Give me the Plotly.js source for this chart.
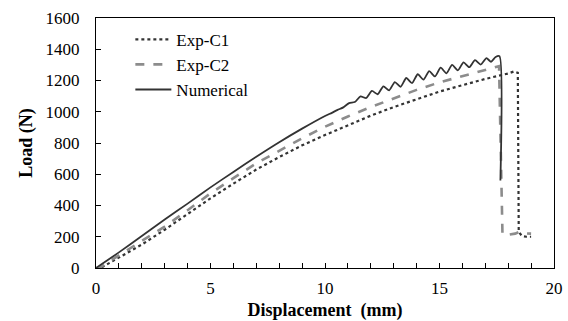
<!DOCTYPE html>
<html>
<head>
<meta charset="utf-8">
<script src="https://cdn.plot.ly/plotly-3.0.1.min.js"></script>
<style>html,body{margin:0;padding:0;background:#fff;}#chart{width:568px;height:321px;}</style>
</head>
<body>
<div id="chart"></div>
<script>
// Exp-C1 (dotted)
const c1X = [0, 0.2, 0.5, 1, 2, 3, 4, 5, 6, 7, 8, 9, 10, 11, 12, 13, 14, 15, 16, 17, 18, 18.25, 18.42, 18.46, 18.6, 18.8, 19];
const c1Y = [0, 0, 25, 65, 150, 245, 345, 446, 540, 630, 710, 785, 851, 915, 975, 1030, 1080, 1129, 1170, 1210, 1245, 1258, 1250, 232, 205, 200, 200];

// Exp-C2 (dashed)
const c2X = [0, 0.2, 0.5, 1, 2, 3, 4, 5, 6, 7, 8, 9, 10, 11, 12, 13, 14, 15, 16, 17, 17.6, 17.75, 18, 18.3, 18.5, 18.7, 19];
const c2Y = [0, 5, 35, 80, 170, 265, 370, 478, 575, 670, 750, 830, 904, 970, 1030, 1085, 1140, 1188, 1230, 1268, 1292, 215, 212, 220, 232, 222, 220];

// Numerical (solid)
const numX = [0, 1, 2, 3, 4, 5, 6, 7, 8, 9, 10, 10.3, 10.55, 10.8, 11.05, 11.3, 11.55, 11.8, 12.05, 12.3, 12.55, 12.8, 13.05, 13.3, 13.55, 13.8, 14.05, 14.3, 14.55, 14.8, 15.05, 15.3, 15.55, 15.8, 16.05, 16.3, 16.55, 16.8, 17.05, 17.25, 17.45, 17.62, 17.66];
const numY = [0, 100, 205, 310, 412, 516, 615, 712, 805, 892, 973, 993, 1012, 1028, 1055, 1062, 1098, 1088, 1133, 1112, 1163, 1137, 1190, 1160, 1216, 1183, 1240, 1205, 1260, 1226, 1282, 1246, 1300, 1265, 1316, 1285, 1330, 1302, 1343, 1320, 1350, 1355, 560];

const xTicks = [0, 5, 10, 15, 20];
const yTicks = [0, 200, 400, 600, 800, 1000, 1200, 1400, 1600];

const font = {family: '"Liberation Serif", "Times New Roman", serif', color: '#000'};
const f = s => Object.assign({size: s}, font);

const traces = [
  {x: c1X, y: c1Y, name: 'Exp-C1', mode: 'lines', line: {color: '#333333', width: 2.2, dash: 'dot'}},
  {x: c2X, y: c2Y, name: 'Exp-C2', mode: 'lines', line: {color: '#8c8c8c', width: 2.6, dash: 'dash'}},
  {x: numX, y: numY, name: 'Numerical', mode: 'lines', line: {color: '#333333', width: 1.8, shape: 'spline', smoothing: 0.6}}
];

const layout = {
  width: 568, height: 321,
  margin: {l: 96, r: 14, t: 18, b: 53},
  paper_bgcolor: '#fff', plot_bgcolor: '#fff',
  font: f(17),
  showlegend: true,
  legend: {x: 0.075, y: 0.985, xanchor: 'left', yanchor: 'top', bgcolor: 'rgba(0,0,0,0)', font: f(17), tracegroupgap: 0, itemwidth: 36},
  xaxis: {
    range: [0, 20], tickvals: xTicks, ticktext: xTicks.map(String),
    ticks: 'inside', ticklen: 5, tickcolor: '#000',
    minor: {dtick: 1, ticks: 'inside', ticklen: 5, tickcolor: '#000'},
    showline: true, linecolor: '#000', linewidth: 1, mirror: true,
    showgrid: false, zeroline: false,
    tickfont: f(17), ticklabelstandoff: 5,
    title: {text: '<b>Displacement  (mm)</b>', font: f(18), standoff: 7}
  },
  yaxis: {
    range: [0, 1600], tickvals: yTicks, ticktext: yTicks.map(String),
    ticks: 'inside', ticklen: 5, tickcolor: '#000',
    showline: true, linecolor: '#000', linewidth: 1, mirror: true,
    showgrid: false, zeroline: false,
    tickfont: f(17), ticklabelstandoff: 12,
    title: {text: '<b>Load (N)</b>', font: f(18), standoff: 8}
  }
};

Plotly.newPlot('chart', traces, layout, {staticPlot: true, displayModeBar: false});
</script>
</body>
</html>
